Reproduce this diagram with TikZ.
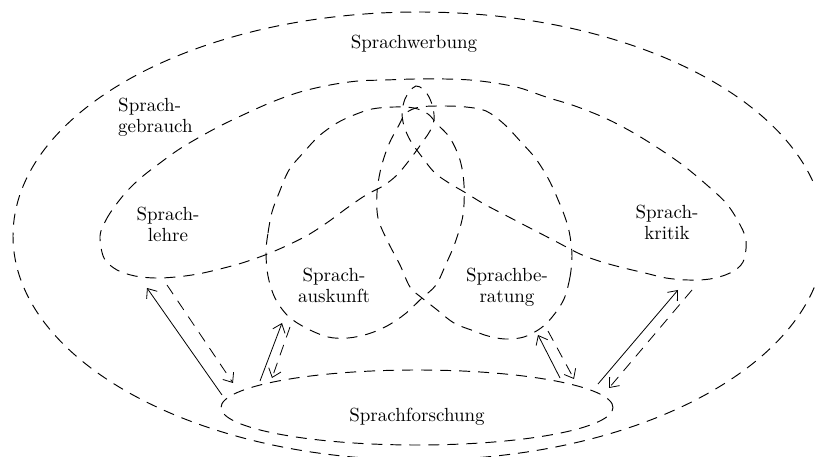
\documentclass[tikz,border=0pt]{standalone}
\usepackage{fontspec}
\setmainfont{lmroman10-regular}[Extension=.otf]
\usetikzlibrary{arrows.meta}
\begin{document}
\begin{tikzpicture}[x=1pt,y=-1pt,
  dsh/.style={line width=0.95pt, dash pattern=on 11pt off 8pt},
  lbl/.style={font=\fontsize{19}{21.5}\selectfont, inner sep=0pt, align=center, anchor=north},
  conn/.style={line width=0.8pt, -{Straight Barb[length=8pt,width=13pt]}},
  dconn/.style={conn, dash pattern=on 11pt off 8pt}]
\useasboundingbox (0,0) rectangle (815,457);

% outer region
\draw[dsh] (419,236) ellipse [x radius=406pt, y radius=224pt];
% Sprachforschung
\draw[dsh] (417,407.5) ellipse [x radius=196pt, y radius=37.5pt];

% big two-lobed curve (Sprachlehre / Sprachkritik)
\draw[dsh] plot[smooth cycle, tension=0.55] coordinates {
 (100,236) (106,220) (115,206) (128,190) (143,176) (160,163) (178,150) (198,138)
 (220,126) (245,114) (272,102) (300,92) (330,85) (358,81) (385,80) (415,79)
 (445,79) (470,80) (495,83) (520,88) (546,97) (575,106) (605,118) (632,132)
 (658,148) (684,166) (708,186) (726,203) (738,221) (746,240) (743,262) (730,273)
 (710,279) (688,280) (666,278) (645,273) (624,268) (602,262) (580,254) (555,241)
 (528,227) (505,215) (484,204) (466,193) (449,183) (434,172) (419,153) (410,140)
 (404,126) (402,112) (405,99) (410,91) (416,86) (423,89) (429,97) (433,108)
 (434,120) (430,131) (424,140) (411,158) (397,175) (383,186) (366,195) (347,208)
 (328,222) (308,235) (286,246) (265,255) (242,263) (220,269) (198,274) (176,277)
 (155,278) (135,276) (117,270) (104,258)};

% Sprachauskunft
\draw[dsh] plot[smooth cycle, tension=0.55] coordinates {
 (266,252) (268,233) (272,212) (279,193) (289,170) (304,152) (319,136) (337,123)
 (354,115) (372,109) (394,107) (414,108) (428,114) (437,124) (450,138) (460,160)
 (464,185) (463,215) (455,243) (446,264) (436,285) (422,298) (405,314) (387,326)
 (368,334) (348,338) (328,337) (306,328) (288,316) (275,298) (268,276)};

% Sprachberatung
\draw[dsh] plot[smooth cycle, tension=0.55] coordinates {
 (572,256) (570,277) (564,299) (553,316) (541,328) (524,337) (505,339) (488,336)
 (474,331) (454,323) (436,309) (422,298) (410,287) (400,265) (387,240) (378,218)
 (377,193) (381,168) (389,144) (399,125) (406,113) (420,107) (444,106) (466,107)
 (486,111) (504,124) (521,142) (536,159) (549,180) (559,202) (566,220) (570,236)};

% labels
\node[lbl] (werb) at (414,34.8) {Sprachwerbung};
\node[lbl, align=left, anchor=north west] (gebr) at (118,97.8) {Sprach-\\gebrauch};
\node[lbl] (lehre) at (168,206.8) {Sprach-\\lehre};
\node[lbl] (ausk) at (334,267.8) {Sprach-\\auskunft};
\node[lbl] (berat) at (507,267.8) {Sprachbe-\\ratung};
\node[lbl] (krit) at (667,204.8) {Sprach-\\kritik};
\node[lbl] (forsch) at (417,407.8) {Sprachforschung};

% connector end points
\coordinate (c1a) at (222,395); \coordinate (c1b) at (147,288);
\coordinate (c1c) at (167,285); \coordinate (c1d) at (233,383);
\coordinate (c2a) at (260,381); \coordinate (c2b) at (282,323);
\coordinate (c2c) at (290,327); \coordinate (c2d) at (272,378);
\coordinate (c3a) at (560,378); \coordinate (c3b) at (538,335);
\coordinate (c3c) at (548,331); \coordinate (c3d) at (574,379);
\coordinate (c4a) at (598,384); \coordinate (c4b) at (678,290);
\coordinate (c4c) at (692,290); \coordinate (c4d) at (609,388);

\draw[conn] (c1a) -- (c1b);
\draw[dconn] (c1c) -- (c1d);
\draw[conn] (c2a) -- (c2b);
\draw[dconn] (c2c) -- (c2d);
\draw[conn] (c3a) -- (c3b);
\draw[dconn] (c3c) -- (c3d);
\draw[conn] (c4a) -- (c4b);
\draw[dconn] (c4c) -- (c4d);
\end{tikzpicture}
\end{document}
